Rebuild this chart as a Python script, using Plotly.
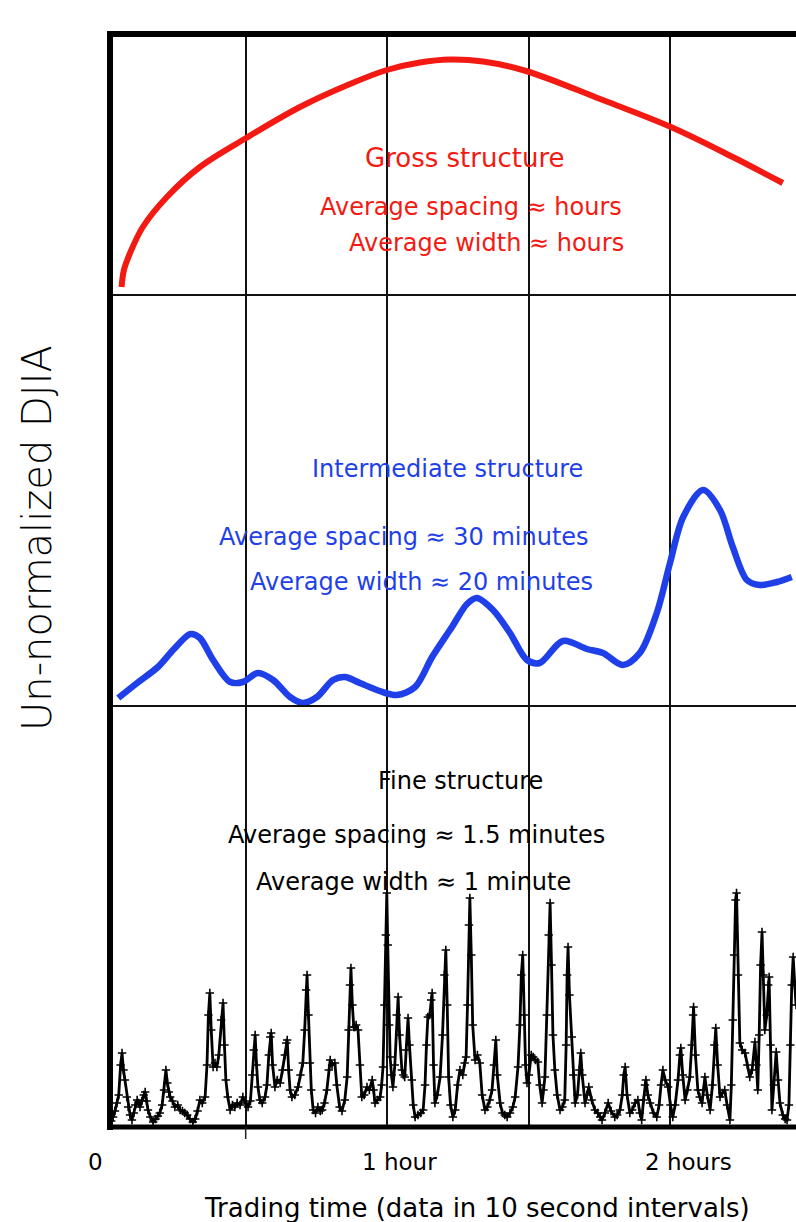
import plotly.graph_objects as go

# ---------------- data (time in minutes, values in arbitrary DJIA units) ----------------
t_gross = [3.7, 4.2, 5.5, 8.2, 13.3, 20.3, 30.1, 41.5, 52.1, 59.9, 66.9, 73.3,
           80.3, 89.4, 105.1, 120.1, 133.2, 143.8]
v_gross = [9, 26, 43, 69, 99, 129, 158, 189, 212, 226, 233.5, 236.5,
           234.5, 225, 197, 169, 139, 113]

t_inter = [3.0, 7.0, 11.4, 14.6, 17.8, 18.6, 20.3, 23.1, 26.7, 29.4, 32.6, 35.8, 39.4,
           42.1, 45.1, 48.5, 51.0, 54.2, 58.4, 62.0, 65.9, 69.5, 73.7, 76.9, 79.0, 82.4,
           86.0, 89.6, 92.3, 97.2, 102.3, 105.7, 109.9, 113.5, 117.1, 119.9, 122.7, 126.9,
           130.5, 133.2, 136.2, 138.9, 142.6, 145.7]
v_inter = [7, 22, 38, 55, 70, 71, 67, 45, 23, 23, 32, 25, 8,
           2, 8, 25, 28, 22, 14, 10, 18, 48, 78, 101, 107, 95,
           72, 45, 42, 64, 56, 52, 40, 52, 92, 142, 188, 215,
           195, 158, 125, 120, 123, 128]

# fine structure samples: (minute, value)
fine_samples = [
    (1.5, 4), (1.9, 8), (2.3, 14), (2.7, 22), (3.1, 30), (3.5, 60), (3.8, 72), (4.1, 55),
    (4.4, 45), (4.8, 28), (5.1, 18), (5.5, 10), (5.9, 5), (6.3, 12), (6.6, 20), (7.0, 25),
    (7.3, 22), (7.6, 18), (8.0, 24), (8.4, 30), (8.7, 33), (9.0, 24), (9.3, 15), (9.8, 8),
    (10.4, 3), (10.9, 6), (11.4, 9), (11.8, 12), (12.3, 20), (12.7, 35), (13.1, 55), (13.4, 42),
    (13.7, 33), (14.0, 28), (14.5, 24), (15.0, 18), (15.6, 20), (16.1, 15), (16.6, 14), (17.1, 12),
    (17.6, 10), (18.2, 6), (18.8, 3), (19.3, 6), (19.8, 14), (20.3, 25), (20.8, 22), (21.4, 28),
    (21.8, 60), (22.1, 110), (22.4, 132), (22.7, 95), (23.1, 58), (23.5, 62), (23.9, 58), (24.3, 70),
    (24.8, 105), (25.2, 122), (25.5, 80), (25.8, 45), (26.2, 28), (26.7, 15), (27.2, 20), (27.7, 18),
    (28.2, 22), (28.8, 20), (29.4, 28), (29.9, 22), (30.5, 18), (31.0, 24), (31.4, 50), (31.7, 75),
    (32.0, 90), (32.3, 60), (32.6, 38), (33.0, 25), (33.5, 22), (34.1, 28), (34.5, 40), (34.9, 70),
    (35.2, 88), (35.4, 92), (35.7, 60), (36.2, 38), (36.7, 45), (37.3, 42), (37.8, 55), (38.3, 70),
    (38.6, 82), (38.8, 85), (39.1, 55), (39.4, 35), (39.8, 28), (40.4, 30), (41.1, 38), (41.6, 50),
    (42.1, 62), (42.5, 95), (42.8, 135), (43.0, 150), (43.3, 110), (43.6, 62), (43.9, 35), (44.3, 15),
    (44.8, 12), (45.3, 18), (45.8, 14), (46.2, 15), (46.7, 22), (47.2, 35), (47.6, 55), (47.9, 65),
    (48.3, 60), (48.9, 62), (49.3, 40), (49.9, 18), (50.4, 14), (51.0, 25), (51.5, 48), (51.8, 95),
    (52.1, 140), (52.3, 157), (52.6, 120), (52.9, 98), (53.1, 98), (53.4, 100), (53.8, 95), (54.2, 60),
    (54.6, 28), (55.1, 30), (55.7, 38), (56.2, 35), (56.8, 45), (57.1, 35), (57.4, 22), (57.9, 25),
    (58.5, 28), (58.8, 40), (59.1, 58), (59.4, 120), (59.7, 190), (59.9, 232), (60.1, 180), (60.4, 100),
    (60.6, 68), (60.9, 50), (61.2, 38), (61.6, 60), (62.0, 110), (62.3, 128), (62.6, 90), (63.1, 55),
    (63.4, 50), (63.7, 48), (64.0, 75), (64.4, 107), (64.7, 80), (65.2, 45), (65.5, 20), (65.9, 8),
    (66.5, 10), (67.1, 12), (67.6, 15), (68.0, 40), (68.3, 80), (68.6, 108), (69.0, 110), (69.3, 125),
    (69.5, 132), (69.8, 60), (70.1, 22), (70.6, 30), (71.2, 48), (71.7, 90), (72.1, 150), (72.4, 175),
    (72.7, 120), (73.0, 48), (73.4, 20), (73.9, 8), (74.4, 15), (74.9, 40), (75.4, 55), (76.0, 50),
    (76.4, 62), (76.7, 68), (77.0, 120), (77.3, 200), (77.5, 227), (77.8, 170), (78.1, 100), (78.6, 65),
    (79.1, 70), (79.6, 62), (80.1, 30), (80.7, 15), (81.2, 18), (81.7, 25), (82.2, 35), (82.6, 60),
    (83.0, 85), (83.3, 50), (83.9, 22), (84.4, 12), (84.9, 10), (85.4, 8), (86.0, 12), (86.6, 18),
    (87.1, 28), (87.7, 58), (88.1, 100), (88.4, 150), (88.7, 170), (89.0, 110), (89.3, 60), (89.6, 42),
    (90.0, 50), (90.5, 70), (90.9, 68), (91.4, 65), (91.9, 63), (92.3, 40), (92.8, 22), (93.1, 35),
    (93.4, 48), (93.8, 110), (94.2, 190), (94.5, 222), (94.8, 160), (95.1, 90), (95.5, 55), (96.0, 30),
    (96.6, 15), (97.1, 18), (97.6, 25), (97.9, 80), (98.1, 150), (98.3, 178), (98.6, 130), (99.1, 88),
    (99.4, 50), (99.8, 22), (100.3, 30), (100.7, 55), (101.0, 72), (101.3, 50), (101.9, 22), (102.3, 30),
    (102.7, 38), (103.3, 25), (104.0, 15), (104.6, 12), (105.1, 8), (105.5, 5), (106.1, 12), (106.8, 22),
    (107.4, 14), (108.2, 8), (108.7, 10), (109.3, 15), (109.8, 30), (110.1, 50), (110.4, 58), (110.8, 30),
    (111.4, 12), (111.9, 15), (112.5, 22), (113.1, 25), (113.5, 12), (113.9, 5), (114.3, 25), (114.6, 40),
    (114.8, 45), (115.2, 30), (115.7, 22), (116.4, 12), (117.1, 8), (117.6, 20), (118.0, 40), (118.4, 55),
    (118.9, 45), (119.5, 38), (120.0, 20), (120.5, 8), (121.0, 20), (121.6, 45), (122.0, 70), (122.2, 77),
    (122.6, 50), (123.1, 25), (123.6, 35), (124.1, 48), (124.5, 80), (124.8, 110), (124.9, 118), (125.3, 70),
    (125.8, 35), (126.2, 28), (126.7, 22), (127.0, 35), (127.3, 48), (127.8, 30), (128.4, 15), (128.9, 40),
    (129.3, 80), (129.6, 97), (130.0, 60), (130.5, 28), (131.0, 32), (131.5, 35), (132.0, 20), (132.6, 5),
    (132.9, 40), (133.2, 105), (133.5, 170), (133.8, 225), (134.0, 232), (134.3, 150), (134.7, 82), (135.2, 75),
    (135.8, 72), (136.3, 60), (136.8, 48), (137.3, 55), (137.9, 83), (138.2, 60), (138.5, 35), (138.8, 90),
    (139.1, 160), (139.4, 193), (139.7, 150), (140.0, 95), (140.4, 110), (140.7, 140), (140.9, 148), (141.2, 80),
    (141.5, 15), (141.9, 40), (142.4, 73), (142.8, 45), (143.2, 22), (143.8, 10), (144.3, 6), (144.7, 5),
    (145.1, 20), (145.4, 80), (145.7, 140), (146.0, 168), (146.3, 140), (146.6, 120),
]
t_fine = [p[0] for p in fine_samples]
v_fine = [p[1] for p in fine_samples]

grid_minutes = [30, 60, 90, 120]
tick_labels = ["0", "1 hour", "2 hours"]

panel_texts_gross = ["Gross structure", "Average spacing \u2248 hours", "Average width \u2248 hours"]
panel_texts_inter = ["Intermediate structure", "Average spacing \u2248 30 minutes",
                     "Average width \u2248 20 minutes"]
panel_texts_fine = ["Fine structure", "Average spacing \u2248 1.5 minutes",
                    "Average width \u2248 1 minute"]

RED = "#f21a12"
BLUE = "#1f3fe8"
BLACK = "#000000"
FONT = "DejaVu Sans"

# ---------------- geometry ----------------
W, H = 796, 1222
L, R, T, B = 110, 796, 34, 1127
SEP1, SEP2 = 296, 705


def fx(x):
    return (x - L) / (R - L)


def fy(y):
    return (B - y) / (B - T)


xr = [1.25, 146.6]

fig = go.Figure()
fig.add_trace(go.Scatter(x=t_gross, y=v_gross, mode="lines", line=dict(color=RED, width=6, shape="spline", smoothing=1.0),
                         xaxis="x", yaxis="y", showlegend=False, hoverinfo="skip"))
fig.add_trace(go.Scatter(x=t_inter, y=v_inter, mode="lines", line=dict(color=BLUE, width=6.5, shape="spline", smoothing=0.9),
                         xaxis="x2", yaxis="y2", showlegend=False, hoverinfo="skip"))
fig.add_trace(go.Scatter(x=t_fine, y=v_fine, mode="lines+markers",
                         line=dict(color=BLACK, width=2.8),
                         marker=dict(symbol="cross-thin", size=6, line=dict(color=BLACK, width=1.6)),
                         xaxis="x3", yaxis="y3", showlegend=False, hoverinfo="skip"))

xcommon = dict(range=xr, tickvals=grid_minutes, showticklabels=False, ticks="",
               showgrid=True, gridcolor="#111111", gridwidth=1.5, zeroline=False, domain=[0, 1])
ycommon = dict(showticklabels=False, ticks="", showgrid=False, zeroline=False, showline=False)

fig.update_layout(
    width=W, height=H,
    margin=dict(l=L, r=W - R, t=T, b=H - B, pad=0),
    paper_bgcolor="white", plot_bgcolor="white",
    font=dict(family=FONT, color=BLACK),
    xaxis=dict(anchor="y", **xcommon),
    xaxis2=dict(anchor="y2", showline=True, mirror=True, linecolor="#111111", linewidth=1.5, **xcommon),
    xaxis3=dict(anchor="y3", **xcommon),
    yaxis=dict(domain=[fy(SEP1), 1], range=[0, SEP1 - T], **ycommon),
    yaxis2=dict(domain=[fy(SEP2), fy(SEP1)], range=[0, SEP2 - SEP1], **ycommon),
    yaxis3=dict(domain=[0, fy(SEP2)], range=[-2, 420], **ycommon),
)

shapes = [
    # thick frame: left, top, bottom
    dict(type="line", xref="paper", yref="paper", x0=0, x1=0, y0=fy(1130), y1=fy(31),
         line=dict(color=BLACK, width=6), layer="above"),
    dict(type="line", xref="paper", yref="paper", x0=fx(107), x1=1.01, y0=1, y1=1,
         line=dict(color=BLACK, width=6), layer="above"),
    dict(type="line", xref="paper", yref="paper", x0=fx(107), x1=1.01, y0=0, y1=0,
         line=dict(color=BLACK, width=5), layer="above"),
    # single tick below axis at 30 minutes
    dict(type="line", xref="x3", yref="paper", x0=30, x1=30, y0=fy(1139), y1=0,
         line=dict(color="#222222", width=1.5), layer="above"),
]
fig.update_layout(shapes=shapes)

ann = []


def add_text(text, x, y, color, size, **kw):
    ann.append(dict(text=text, x=fx(x), y=fy(y), xref="paper", yref="paper", showarrow=False,
                    xanchor="center", yanchor="middle", font=dict(family=FONT, size=size, color=color), **kw))


for txt, (cx, cy), sz in zip(panel_texts_gross, [(464.5, 158), (470.5, 207), (486.5, 243)], [26, 24, 24]):
    add_text(txt, cx, cy, RED, sz)
for txt, (cx, cy) in zip(panel_texts_inter, [(447.5, 469), (404, 537), (421, 582)]):
    add_text(txt, cx, cy, BLUE, 24)
for txt, (cx, cy) in zip(panel_texts_fine, [(460, 781), (416, 835), (413, 882)]):
    add_text(txt, cx, cy, BLACK, 24)

for txt, cx in zip(tick_labels, [95.5, 399.5, 688.5]):
    add_text(txt, cx, 1162, BLACK, 23)

add_text("Trading time (data in 10 second intervals)", 476.5, 1208, BLACK, 26)
ann.append(dict(text="Un-normalized DJIA", x=fx(37), y=fy(538), xref="paper", yref="paper",
                showarrow=False, xanchor="center", yanchor="middle", textangle=-90,
                font=dict(family=FONT, size=40, color=BLACK, weight=300)))

fig.update_layout(annotations=ann)
fig.write_html("out.html")
